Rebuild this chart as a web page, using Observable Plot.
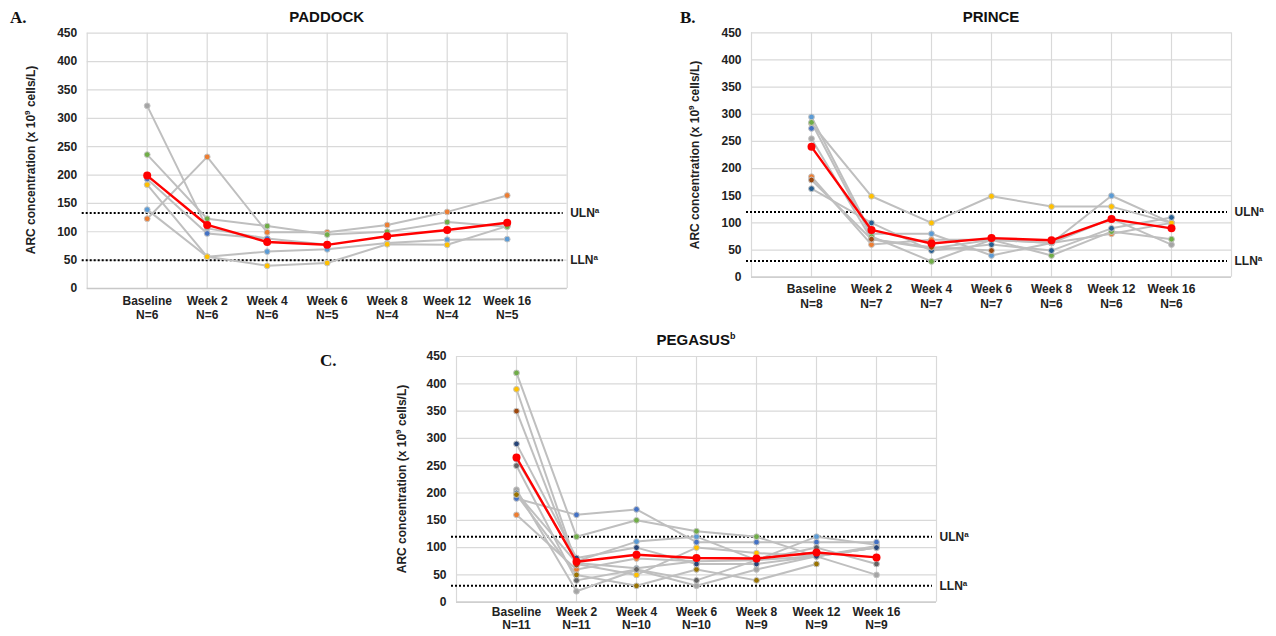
<!DOCTYPE html>
<html><head><meta charset="utf-8">
<script src="https://cdn.jsdelivr.net/npm/d3@7"></script>
<script src="https://cdn.jsdelivr.net/npm/@observablehq/plot@0.6"></script>
<style>
body{margin:0;background:#fff;font-family:"Liberation Sans",Arial,sans-serif;}
#root{position:relative;width:1276px;height:636px;overflow:hidden;background:#fff;}
.panel{position:absolute;}
.letter{position:absolute;font-family:"Liberation Serif","Times New Roman",serif;font-weight:bold;font-size:17px;color:#111;transform:translate(0,-50%);}
.title{position:absolute;font-weight:bold;font-size:15px;color:#111;transform:translate(-50%,-50%);white-space:nowrap;}
.title sup{font-size:9px;}
.ytitle{position:absolute;font-weight:bold;font-size:12px;color:#222;transform:translate(-50%,-50%) rotate(-90deg);white-space:nowrap;}
.ytitle sup{font-size:8px;}
g[aria-label="y-axis tick label"] text{font-weight:bold;}
</style></head><body><div id="root"></div>
<script>
// ---------- shared ----------
const visits = ["Baseline","Week 2","Week 4","Week 6","Week 8","Week 12","Week 16"];
const yTicks = [0,50,100,150,200,250,300,350,400,450];
const subjectColors = ["#5B9BD5","#ED7D31","#A5A5A5","#FFC000","#4472C4","#70AD47","#255E91","#9E480E","#636363","#997300","#264478"];

// ---------- A. PADDOCK ----------
const paddockN = [6,6,6,5,4,4,5];
const paddockLightBlue = [139,56,65,69,80,86,87];
const paddockOrange    = [123,232,99,99,112,135,164];
const paddockGray      = [322,106,88,null,null,null,null];
const paddockGold      = [183,56,40,45,78,77,110];
const paddockBlue      = [193,97,88,77,null,null,110];
const paddockGreen     = [236,123,110,95,100,117,109];
const paddockMean      = [199,112,82,77,92,103,116];
const paddockULN = 133, paddockLLN = 50;

// ---------- B. PRINCE ----------
const princeN = [8,7,7,7,6,6,6];
const princeLightBlue = [295,80,80,40,63,150,100];
const princeOrange    = [185,60,69,69,63,80,100];
const princeGray      = [255,70,53,69,63,108,60];
const princeGold      = [283,149,100,149,130,130,100];
const princeBlue      = [274,null,null,null,null,null,null];
const princeGreen     = [285,75,29,69,40,84,70];
const princeDarkBlue  = [163,100,49,60,49,90,110];
const princeBrown     = [179,70,55,49,null,null,null];
const princeMean      = [240,87,62,72,68,107,90];
const princeULN = 120, princeLLN = 30;

// ---------- C. PEGASUS ----------
const pegasusN = [11,11,10,10,9,9,9];
const pegasusLightBlue = [262,75,111,120,77,120,105];
const pegasusOrange    = [160,60,80,75,77,84,103];
const pegasusGray      = [206,20,59,30,60,84,50];
const pegasusGold      = [390,70,50,100,90,84,100];
const pegasusBlue      = [190,160,170,110,110,110,110];
const pegasusGreen     = [420,120,150,130,120,84,100];
const pegasusDarkBlue  = [200,72,62,75,null,null,null];
const pegasusBrown     = [350,68,null,null,null,null,null];
const pegasusDarkGray  = [250,40,60,40,77,100,70];
const pegasusOlive     = [197,50,30,60,40,70,null];
const pegasusNavy      = [290,81,100,70,70,84,100];
const pegasusMean      = [265,74,87,81,80,91,82];
const pegasusULN = 120, pegasusLLN = 30;

const root = document.getElementById("root");

function addDiv(cls, html, left, top) {
  const d = document.createElement("div");
  d.className = cls; d.innerHTML = html;
  d.style.left = left + "px"; d.style.top = top + "px";
  root.appendChild(d);
}

function panel({subjects, colors, mean, n, uln, lln, left, top, width, height, mL, mR, mT, mB, labelDy = 6, labelLH = 1.2}) {
  const rows = [];
  subjects.forEach((arr, s) => arr.forEach((v, i) =>
    rows.push({s, i: i + 1, v: v == null ? NaN : v, color: colors[s]})));
  const meanRows = mean.map((v, i) => ({i: i + 1, v}));
  const labels = visits.map((v, i) => ({i: i + 1, t: v + "\nN=" + n[i]}));
  const limits = [{y: uln, t: "ULN"}, {y: lln, t: "LLN"}];
  const chart = Plot.plot({
    width, height, marginLeft: mL, marginRight: mR, marginTop: mT, marginBottom: mB,
    style: {fontFamily: "'Liberation Sans', Arial, sans-serif", fontSize: "12px", color: "#222", background: "transparent"},
    x: {type: "linear", domain: [0, 8], axis: null},
    y: {domain: [0, 450], axis: null},
    color: {type: "identity"},
    marks: [
      Plot.gridY(yTicks, {stroke: "#d9d9d9", strokeOpacity: 1, strokeWidth: 1.2}),
      Plot.gridX(d3.range(0, 9), {stroke: "#d9d9d9", strokeOpacity: 1, strokeWidth: 1.2}),
      Plot.ruleY([0], {stroke: "#c8c8c8", strokeWidth: 1.3}),
      Plot.axisY(yTicks, {tickSize: 0, tickPadding: 10, label: null, fontSize: 12}),
      Plot.text(labels, {x: "i", text: "t", frameAnchor: "bottom", lineAnchor: "top", dy: labelDy, lineHeight: labelLH, fontSize: 12, fontWeight: "bold", fill: "#222"}),
      Plot.ruleY(limits, {y: "y", stroke: "#000", strokeWidth: 2, strokeDasharray: "2,2", insetLeft: -5, insetRight: 4}),
      Plot.text(limits, {y: "y", text: "t", frameAnchor: "right", textAnchor: "start", dx: 3, fontSize: 12, fontWeight: "bold", fill: "#222"}),
      Plot.line(rows, {x: "i", y: "v", z: "s", stroke: "#bfbfbf", strokeWidth: 2}),
      Plot.dot(rows.filter(d => !isNaN(d.v)), {x: "i", y: "v", fill: "color", stroke: "#c4c4c4", strokeWidth: 1, r: 2.9}),
      Plot.line(meanRows, {x: "i", y: "v", stroke: "#ff0000", strokeWidth: 2.4}),
      Plot.dot(meanRows, {x: "i", y: "v", fill: "#ff0000", r: 4})
    ]
  });
  chart.classList.add("panel");
  chart.style.left = left + "px"; chart.style.top = top + "px";
  // superscript "a" on ULN / LLN labels
  chart.querySelectorAll("text").forEach(t => {
    if (t.textContent === "ULN" || t.textContent === "LLN") {
      const ts = document.createElementNS("http://www.w3.org/2000/svg", "tspan");
      ts.setAttribute("font-size", "8");
      ts.setAttribute("dy", "-4");
      ts.textContent = "a";
      t.appendChild(ts);
    }
  });
  root.appendChild(chart);
  return chart;
}

const ytitle = "ARC concentration (x 10<sup>9</sup> cells/L)";

// Panel A
panel({subjects: [paddockLightBlue, paddockOrange, paddockGray, paddockGold, paddockBlue, paddockGreen],
  colors: subjectColors, mean: paddockMean, n: paddockN, uln: paddockULN, lln: paddockLLN,
  left: 0, top: 0, width: 640, height: 330, mL: 86.7, mR: 73.3, mT: 32.7, mB: 42});
addDiv("letter", "A.", 10, 18);
addDiv("title", "PADDOCK", 326.7, 16);
addDiv("ytitle", ytitle, 30, 160);

// Panel B
panel({subjects: [princeLightBlue, princeOrange, princeGray, princeGold, princeBlue, princeGreen, princeDarkBlue, princeBrown],
  colors: subjectColors, mean: princeMean, n: princeN, uln: princeULN, lln: princeLLN,
  left: 640, top: 0, width: 636, height: 330, mL: 111, mR: 45, mT: 32.3, mB: 53.3});
addDiv("letter", "B.", 680, 18);
addDiv("title", "PRINCE", 991, 16);
addDiv("ytitle", ytitle, 694, 154.5);

// Panel C
panel({subjects: [pegasusLightBlue, pegasusOrange, pegasusGray, pegasusGold, pegasusBlue, pegasusGreen, pegasusDarkBlue, pegasusBrown, pegasusDarkGray, pegasusOlive, pegasusNavy],
  colors: subjectColors, mean: pegasusMean, n: pegasusN, uln: pegasusULN, lln: pegasusLLN,
  left: 370, top: 320, width: 620, height: 316, mL: 86, mR: 54, mT: 36, mB: 34.3, labelDy: 4, labelLH: 1.12});
addDiv("letter", "C.", 320, 361);
addDiv("title", "PEGASUS<sup>b</sup>", 696, 339);
addDiv("ytitle", ytitle, 401, 479);
</script></body></html>
